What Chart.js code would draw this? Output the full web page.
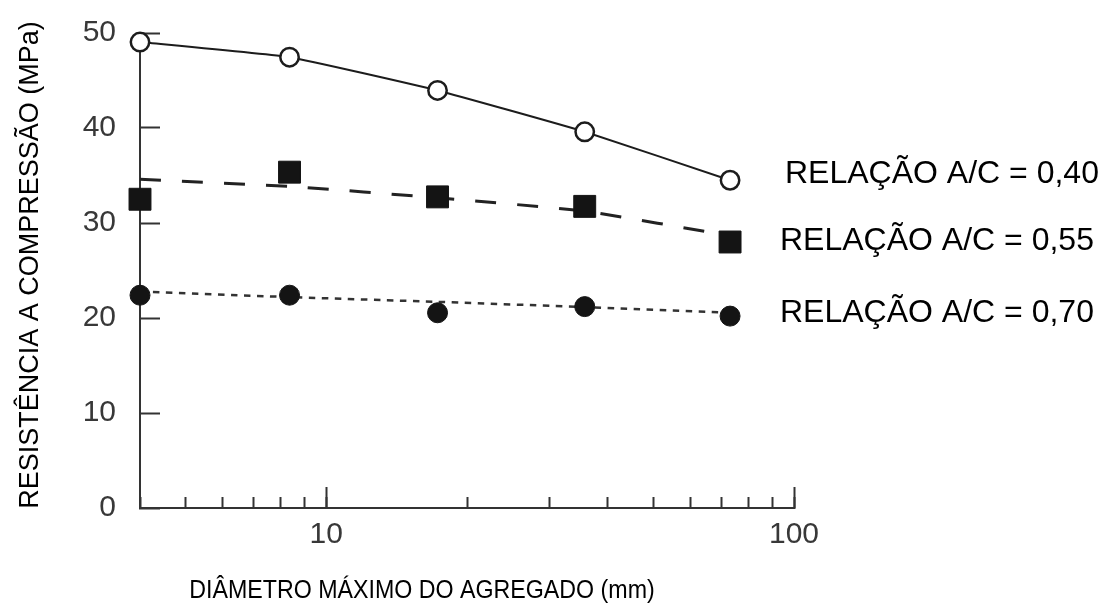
<!DOCTYPE html>
<html lang="pt-BR">
<head>
<meta charset="utf-8">
<title>Resistência à compressão × diâmetro máximo do agregado</title>
<script src="https://cdn.jsdelivr.net/npm/chart.js@4.4.1/dist/chart.umd.min.js"></script>
<style>
  html, body { margin: 0; padding: 0; background: #fff; }
  #wrap { position: relative; width: 1100px; height: 603px; }
</style>
</head>
<body>
<div id="wrap"><canvas id="chart" width="1100" height="603"></canvas></div>
<script>
// Diâmetro máximo do agregado (mm)
const diametros = [4, 8.35, 17.3, 35.7, 73];

// Resistência à compressão (MPa) para cada relação água/cimento
const resistencia040 = [49.05, 47.45, 43.95, 39.6, 34.5];
const resistencia055 = [32.5, 35.35, 32.75, 31.75, 28.0];
const resistencia070 = [22.4, 22.4, 20.55, 21.2, 20.2];

// Curvas de tendência ajustadas (mesmos diâmetros)
const tendencia055 = [34.6, 33.85, 32.65, 31.25, 28.65];
const tendencia070 = [22.8, 22.2, 21.7, 21.15, 20.55];

// Textos e marcas dos eixos
const rotulosSeries = ['RELAÇÃO A/C = 0,40', 'RELAÇÃO A/C = 0,55', 'RELAÇÃO A/C = 0,70'];
const ticksX = [4, 5, 6, 7, 8, 9, 10, 20, 30, 40, 50, 60, 70, 80, 90, 100];
const ticksXPrincipais = [10, 100];
const rotulosX = ['10', '100'];
const ticksY = [0, 10, 20, 30, 40, 50];
const tituloX = 'DIÂMETRO MÁXIMO DO AGREGADO (mm)';
const tituloY = 'RESISTÊNCIA A COMPRESSÃO (MPa)';

const familia = '"Liberation Sans", Arial, Helvetica, sans-serif';
const pares = ys => diametros.map((x, i) => ({ x, y: ys[i] }));

// Títulos dos eixos e identificação das curvas
const textosGrafico = {
  id: 'textosGrafico',
  afterDraw(chart) {
    const ctx = chart.ctx;
    ctx.save();
    ctx.fillStyle = '#000';
    ctx.textBaseline = 'alphabetic';

    // título do eixo horizontal (fonte levemente condensada)
    ctx.save();
    ctx.translate(422, 598);
    ctx.scale(0.91, 1);
    ctx.font = '25.5px ' + familia;
    ctx.textAlign = 'center';
    ctx.fillText(tituloX, 0, 0);
    ctx.restore();

    // título do eixo vertical
    ctx.save();
    ctx.translate(38, 265);
    ctx.rotate(-Math.PI / 2);
    ctx.font = '27px ' + familia;
    ctx.textAlign = 'center';
    ctx.fillText(tituloY, 0, 0);
    ctx.restore();

    // identificação de cada curva
    ctx.font = '32px ' + familia;
    ctx.textAlign = 'left';
    const posicoes = [[785, 183], [780, 250], [780, 321.5]];
    rotulosSeries.forEach((t, i) => ctx.fillText(t, posicoes[i][0], posicoes[i][1]));
    ctx.restore();
  }
};

new Chart(document.getElementById('chart'), {
  type: 'line',
  data: {
    datasets: [
      {
        label: rotulosSeries[0],
        data: pares(resistencia040),
        borderColor: '#1c1c1c',
        borderWidth: 2,
        tension: 0.12,
        pointStyle: 'circle',
        pointRadius: 9.2,
        pointBorderWidth: 2.5,
        pointBackgroundColor: '#fff',
        pointBorderColor: '#1c1c1c',
        clip: false
      },
      {
        label: rotulosSeries[1],
        data: pares(resistencia055),
        showLine: false,
        pointStyle: 'rect',
        pointRadius: 15.5,
        pointBorderWidth: 1,
        pointBackgroundColor: '#141414',
        pointBorderColor: '#141414',
        clip: false
      },
      {
        label: rotulosSeries[2],
        data: pares(resistencia070),
        showLine: false,
        pointStyle: 'circle',
        pointRadius: 10,
        pointBorderWidth: 1,
        pointBackgroundColor: '#141414',
        pointBorderColor: '#141414',
        clip: false
      },
      {
        label: 'tendência 0,55',
        data: pares(tendencia055),
        borderColor: '#222',
        borderWidth: 3,
        borderDash: [21, 21],
        tension: 0.15,
        pointRadius: 0,
        clip: false
      },
      {
        label: 'tendência 0,70',
        data: pares(tendencia070),
        borderColor: '#333',
        borderWidth: 2.5,
        borderDash: [6.5, 6.5],
        tension: 0.15,
        pointRadius: 0,
        clip: false
      }
    ]
  },
  options: {
    responsive: false,
    animation: false,
    devicePixelRatio: 1,
    layout: { padding: { top: 33, right: 306, left: 0, bottom: 0 } },
    plugins: { legend: { display: false }, tooltip: { enabled: false } },
    scales: {
      x: {
        type: 'logarithmic',
        min: 4,
        max: 100,
        weight: 1,
        afterBuildTicks: s => { s.ticks = ticksX.map(v => ({ value: v })); },
        afterFit: s => { s.height = 95; },
        border: { display: true, color: '#333', width: 2 },
        grid: { drawOnChartArea: false, tickLength: -11, tickWidth: 2, tickColor: '#333' },
        ticks: {
          autoSkip: false,
          maxRotation: 0,
          padding: 20,
          color: '#383838',
          font: { size: 30, family: familia },
          callback: v => {
            const k = ticksXPrincipais.indexOf(v);
            return k >= 0 ? rotulosX[k] : '';
          }
        }
      },
      xMaior: {
        type: 'logarithmic',
        position: 'bottom',
        min: 4,
        max: 100,
        weight: 0,
        afterBuildTicks: s => { s.ticks = ticksXPrincipais.map(v => ({ value: v })); },
        afterFit: s => { s.height = 0; },
        border: { display: false },
        grid: { drawOnChartArea: false, tickLength: -21, tickWidth: 2, tickColor: '#333' },
        ticks: { display: false }
      },
      y: {
        min: 0,
        max: 50,
        afterBuildTicks: s => { s.ticks = ticksY.map(v => ({ value: v })); },
        afterFit: s => { s.width = 140; s.paddingTop = 0; s.paddingBottom = 0; },
        border: { color: '#333', width: 2 },
        grid: { drawOnChartArea: false, tickLength: -20, tickWidth: 2, tickColor: '#333' },
        ticks: { padding: 44, color: '#383838', font: { size: 30, family: familia, lineHeight: 0.4 } }
      }
    }
  },
  plugins: [textosGrafico]
});
</script>
</body>
</html>
